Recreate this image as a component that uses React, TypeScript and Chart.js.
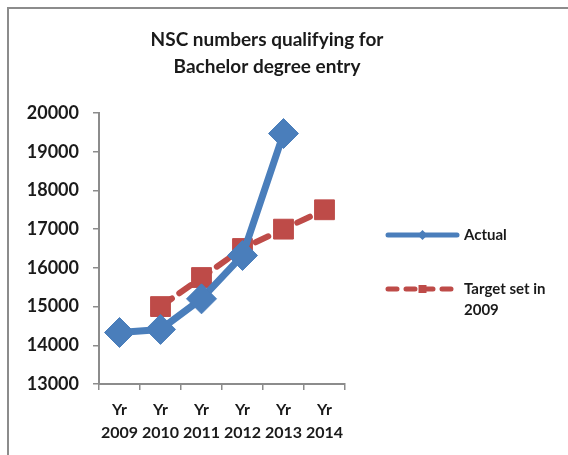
import React, { useEffect, useRef } from "react";
import { Chart, registerables } from "chart.js";

Chart.register(...registerables);

const titleLines = ["NSC numbers qualifying for", "Bachelor degree entry"];
const years = ["2009", "2010", "2011", "2012", "2013", "2014"];
const categoryLabels = years.map((y) => ["Yr", y]);
const actualLabel = "Actual";
const targetLabel = "Target set in 2009";
const actualValues: (number | null)[] = [14330, 14410, 15200, 16320, 19470, null];
const targetValues: (number | null)[] = [null, 15000, 15750, 16500, 17000, 17500];
const yMin = 13000;
const yMax = 20000;
const yStep = 1000;

const BLUE = "#4A7EBB";
const RED = "#BE4B48";
const FONT = "Lato";
const TEXT = "#1a1a1a";

const overlayPlugin = {
  id: "overlay",
  afterDraw(chart: any) {
    const ctx = chart.ctx as CanvasRenderingContext2D;
    ctx.save();
    // title
    ctx.fillStyle = TEXT;
    ctx.font = `bold 19px ${FONT}`;
    ctx.textAlign = "center";
    ctx.textBaseline = "alphabetic";
    titleLines.forEach((t, i) => ctx.fillText(t, 267, 46 + i * 27));

    // legend
    const items = chart.data.datasets.map((ds: any, i: number) => ({
      ds,
      y: i === 0 ? 235 : 289,
    }));
    ctx.font = `bold 15px ${FONT}`;
    ctx.textAlign = "left";
    ctx.textBaseline = "middle";
    items.forEach(({ ds, y }: any) => {
      const x0 = 388;
      const x1 = 457;
      ctx.strokeStyle = ds.borderColor;
      ctx.lineWidth = 5;
      ctx.lineCap = "round";
      ctx.setLineDash(ds.borderDash ? [9, 9] : []);
      ctx.beginPath();
      ctx.moveTo(x0, y);
      ctx.lineTo(x1, y);
      ctx.stroke();
      ctx.setLineDash([]);
      ctx.fillStyle = ds.borderColor;
      const cx = (x0 + x1) / 2;
      ctx.beginPath();
      if (ds.pointStyle === "rectRot") {
        ctx.moveTo(cx - 5, y);
        ctx.lineTo(cx, y - 5);
        ctx.lineTo(cx + 5, y);
        ctx.lineTo(cx, y + 5);
      } else {
        ctx.rect(cx - 4, y - 4, 8, 8);
      }
      ctx.closePath();
      ctx.fill();
      // wrapped text
      ctx.fillStyle = TEXT;
      const words = String(ds.label).split(" ");
      const lines: string[] = [];
      let cur = "";
      words.forEach((w) => {
        const test = cur ? cur + " " + w : w;
        if (ctx.measureText(test).width > 95 && cur) {
          lines.push(cur);
          cur = w;
        } else cur = test;
      });
      if (cur) lines.push(cur);
      lines.forEach((l, i) => ctx.fillText(l, 464, y + i * 21));
    });
    ctx.restore();
  },
};

export default function App() {
  const ref = useRef<HTMLCanvasElement>(null);
  useEffect(() => {
    if (!ref.current) return;
    const chart = new Chart(ref.current, {
      type: "line",
      data: {
        labels: categoryLabels,
        datasets: [
          {
            label: actualLabel,
            data: actualValues,
            borderColor: BLUE,
            backgroundColor: BLUE,
            borderWidth: 7,
            pointStyle: "rectRot",
            pointRadius: 15,
            pointBorderWidth: 1,
            pointBackgroundColor: BLUE,
            pointBorderColor: BLUE,
            borderJoinStyle: "round",
          },
          {
            label: targetLabel,
            data: targetValues,
            borderColor: RED,
            backgroundColor: RED,
            borderWidth: 6,
            borderDash: [14, 9],
            borderCapStyle: "round",
            pointStyle: "rect",
            pointRadius: 14,
            pointBorderWidth: 1,
            pointBackgroundColor: RED,
            pointBorderColor: RED,
          },
        ],
      },
      options: {
        animation: false,
        responsive: false,
        layout: { padding: { top: 113, right: 223, bottom: 0, left: 0 } },
        plugins: { legend: { display: false }, title: { display: false }, tooltip: { enabled: false } },
        scales: {
          x: {
            offset: true,
            grid: { display: true, drawOnChartArea: false, offset: true, tickLength: 6, color: "#8c8c8c", lineWidth: 1.5 },
            border: { display: true, color: "#8c8c8c", width: 2 },
            ticks: { color: TEXT, font: { family: FONT, size: 16, weight: "bold", lineHeight: 1.4 }, padding: 9, maxRotation: 0, autoSkip: false },
            afterFit(scale: any) {
              scale.height = 71;
            },
          },
          y: {
            min: yMin,
            max: yMax,
            ticks: {
              stepSize: yStep,
              color: TEXT,
              font: { family: FONT, size: 18, weight: "bold" },
              padding: 14,
              callback: (v: any) => String(v),
            },
            grid: { display: true, drawOnChartArea: false, tickLength: 6, color: "#8c8c8c", lineWidth: 1.5 },
            border: { display: true, color: "#8c8c8c", width: 2 },
            afterFit(scale: any) {
              scale.width = 99;
            },
          },
        },
      },
      plugins: [overlayPlugin],
    });
    return () => chart.destroy();
  }, []);
  return (
    <div style={{ position: "absolute", left: 0, top: 0, width: 568, height: 455, background: "#fff", overflow: "hidden" }}>
      <div style={{ position: "absolute", left: 7, top: 7, width: 620, height: 520, borderLeft: "2px solid #8c8c8c", borderTop: "2px solid #8c8c8c" }} />
      <canvas ref={ref} width={568} height={455} style={{ position: "absolute", left: 0, top: 0 }} />
    </div>
  );
}
